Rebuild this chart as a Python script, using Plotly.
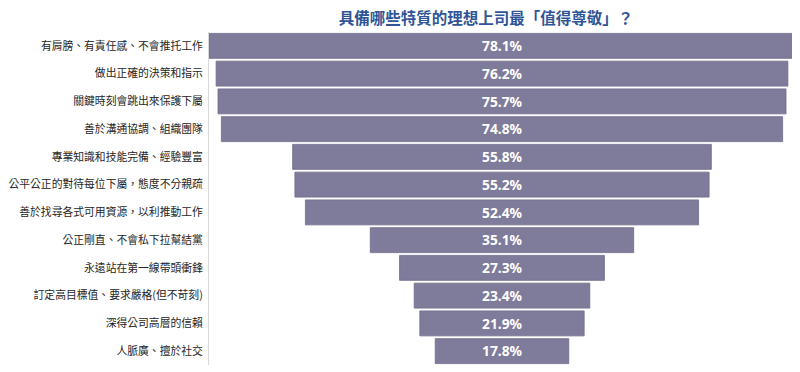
import plotly.graph_objects as go

categories = [
    "有肩膀、有責任感、不會推托工作",
    "做出正確的決策和指示",
    "關鍵時刻會跳出來保護下屬",
    "善於溝通協調、組織團隊",
    "專業知識和技能完備、經驗豐富",
    "公平公正的對待每位下屬，態度不分親疏",
    "善於找尋各式可用資源，以利推動工作",
    "公正剛直、不會私下拉幫結黨",
    "永遠站在第一線帶頭衝鋒",
    "訂定高目標值、要求嚴格(但不苛刻)",
    "深得公司高層的信賴",
    "人脈廣、擅於社交",
]
values = [78.1, 76.2, 75.7, 74.8, 55.8, 55.2, 52.4, 35.1, 27.3, 23.4, 21.9, 17.8]
title_text = "具備哪些特質的理想上司最「值得尊敬」？"

font_family = "Noto Sans CJK TC, Noto Sans CJK SC, sans-serif"

# page body has an 8px default margin, so the figure is 8px smaller and offset
W, H = 792, 364

fig = go.Figure(
    go.Funnel(
        y=categories,
        x=values,
        texttemplate="<b>%{x:.1f}%</b>",
        textposition="inside",
        insidetextanchor="middle",
        textfont=dict(color="white", size=16, family="Noto Sans, sans-serif"),
        marker=dict(color="#7f7b9b", line=dict(color="#6f6b8c", width=0.8)),
        connector=dict(visible=False),
    )
)

fig.update_layout(
    width=W,
    height=H,
    margin=dict(l=201, r=5, t=24, b=7, autoexpand=False),
    paper_bgcolor="white",
    plot_bgcolor="white",
    showlegend=False,
    funnelgap=0.1,
    title=dict(
        text="<b>" + title_text + "</b>",
        x=478 / W,
        xanchor="center",
        xref="container",
        y=1,
        yref="container",
        yanchor="top",
        pad=dict(t=5),
        font=dict(size=15.5, color="#2f5597", family=font_family),
    ),
    font=dict(family=font_family),
)
fig.update_xaxes(visible=False, range=[-39.05, 39.05])
fig.update_yaxes(
    automargin=False,
    showline=True,
    linecolor="#d9d9d9",
    linewidth=1,
    showgrid=False,
    tickfont=dict(size=10.8, color="#262626", family=font_family),
    ticks="",
    ticklabelstandoff=3,
)

fig.write_html("out.html")
